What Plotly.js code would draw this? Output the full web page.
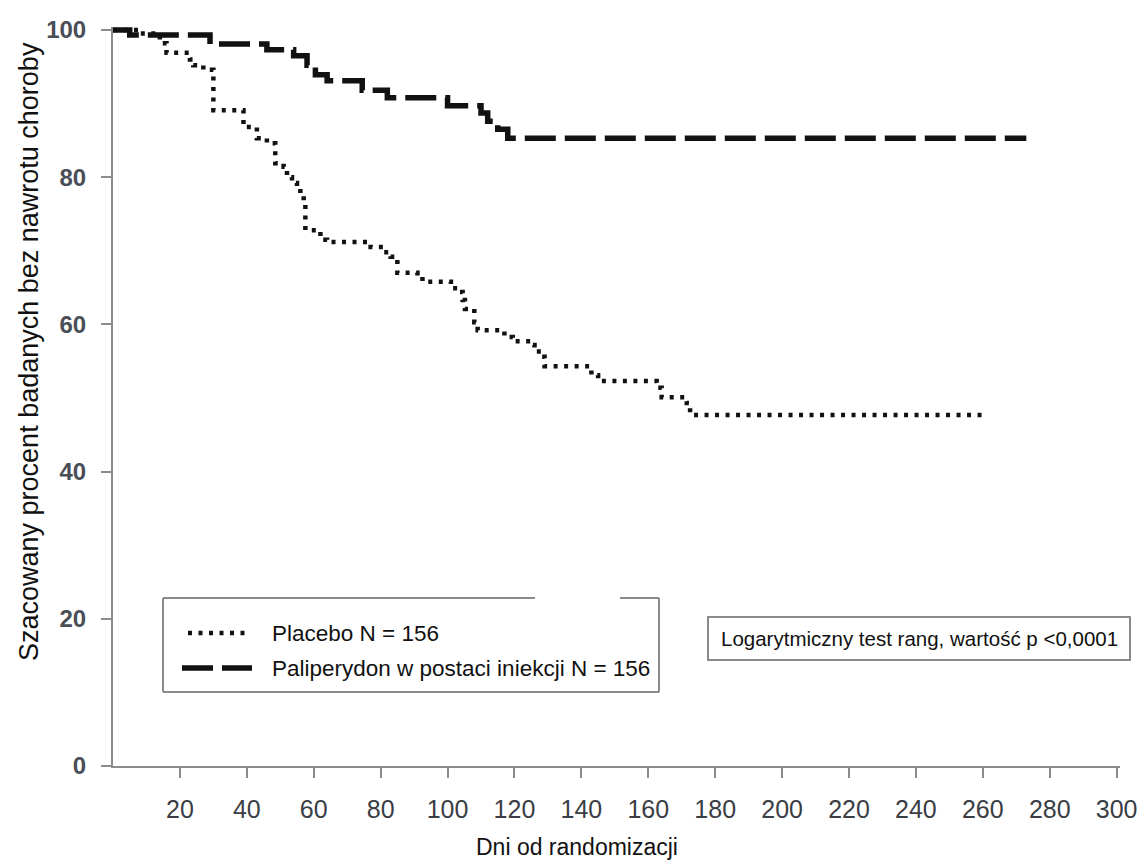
<!DOCTYPE html>
<html>
<head>
<meta charset="utf-8">
<script src="https://cdn.plot.ly/plotly-3.0.1.min.js"></script>
<style>
  html, body { margin: 0; padding: 0; background: #ffffff; }
  #chart { width: 1143px; height: 861px; }
</style>
</head>
<body>
<div id="chart"></div>
<script>
// ---- Data ----
const placeboDays = [0, 8, 14, 16, 23, 24, 27, 30, 39, 43, 46, 48.5, 51, 52, 53.5, 55, 56, 57, 57.5, 62, 64, 77, 81, 83, 85, 91, 92.5, 101, 103.5, 104.5, 105.2, 108, 109, 117, 119.5, 125, 126, 128, 129, 143, 145, 162.5, 164, 171.5, 172.5, 261];
const placeboPct  = [100, 99.5, 98.2, 96.9, 96.0, 95.2, 94.6, 89.1, 86.8, 85.3, 84.6, 81.9, 81.4, 80.0, 79.2, 78.7, 77.8, 76.5, 72.8, 71.5, 71.2, 70.5, 69.8, 69.2, 67.0, 66.6, 65.8, 64.9, 64.4, 63.3, 62.1, 60.3, 59.2, 58.3, 57.7, 57.2, 56.3, 55.6, 54.3, 53.1, 52.3, 51.4, 50.1, 49.3, 47.7, 47.7];

const paliDays = [0, 5, 29, 46, 54, 58, 60.5, 64, 74.5, 82, 100, 110, 112, 115, 118, 273];
const paliPct  = [100, 99.3, 98.1, 97.3, 96.5, 95.2, 93.9, 93.1, 91.8, 90.8, 89.7, 88.7, 87.6, 86.5, 85.3, 85.3];

const xTicks = [20, 40, 60, 80, 100, 120, 140, 160, 180, 200, 220, 240, 260, 280, 300];
const yTicks = [0, 20, 40, 60, 80, 100];

const seriesNames = ['Placebo N = 156', 'Paliperydon w postaci iniekcji N = 156'];
const xTitle = 'Dni od randomizacji';
const yTitle = 'Szacowany procent badanych bez nawrotu choroby';
const testText = 'Logarytmiczny test rang, wartość p <0,0001';

// ---- Layout helpers (pixel -> paper) ----
const L = 113, R = 23, T = 27, B = 95, W = 1143, H = 861;
const PW = W - L - R, PH = H - T - B;
const PX = p => (p - L) / PW;
const PY = p => (H - B - p) / PH;

const sans = '"Liberation Sans", Arial, sans-serif';
const axisGray = '#8c8c8c';

const dotDash = '4px,6.5px';
const longDash = '31px,9px';

const traces = [
  { x: placeboDays, y: placeboPct, mode: 'lines', line: { shape: 'hv', color: '#111111', width: 4.5, dash: dotDash }, name: seriesNames[0], showlegend: false, hoverinfo: 'skip' },
  { x: paliDays, y: paliPct, mode: 'lines', line: { shape: 'hv', color: '#111111', width: 5.5, dash: longDash }, name: seriesNames[1], showlegend: false, hoverinfo: 'skip' }
];

const border = { color: '#8a8a8a', width: 2 };
const shapes = [
  // legend box (gap in top border as in the reference)
  { type: 'line', xref: 'paper', yref: 'paper', x0: PX(163), x1: PX(535), y0: PY(598), y1: PY(598), line: border },
  { type: 'line', xref: 'paper', yref: 'paper', x0: PX(620), x1: PX(659), y0: PY(598), y1: PY(598), line: border },
  { type: 'line', xref: 'paper', yref: 'paper', x0: PX(163), x1: PX(163), y0: PY(598), y1: PY(692), line: border },
  { type: 'line', xref: 'paper', yref: 'paper', x0: PX(659), x1: PX(659), y0: PY(598), y1: PY(692), line: border },
  { type: 'line', xref: 'paper', yref: 'paper', x0: PX(163), x1: PX(659), y0: PY(692), y1: PY(692), line: border },
  // legend samples
  { type: 'line', xref: 'paper', yref: 'paper', x0: PX(188), x1: PX(250), y0: PY(633), y1: PY(633), line: { color: '#111111', width: 4.5, dash: dotDash } },
  { type: 'line', xref: 'paper', yref: 'paper', x0: PX(182), x1: PX(252), y0: PY(668), y1: PY(668), line: { color: '#111111', width: 5.5, dash: longDash } },
  // test box
  { type: 'rect', xref: 'paper', yref: 'paper', x0: PX(708), x1: PX(1130), y0: PY(617), y1: PY(660), line: border, fillcolor: 'rgba(255,255,255,0)' }
];

const annotations = [
  { xref: 'paper', yref: 'paper', x: PX(270), y: PY(633), xanchor: 'left', yanchor: 'middle', text: seriesNames[0], showarrow: false, font: { family: sans, size: 22.5, color: '#111111' } },
  { xref: 'paper', yref: 'paper', x: PX(270), y: PY(668), xanchor: 'left', yanchor: 'middle', text: seriesNames[1], showarrow: false, font: { family: sans, size: 22.5, color: '#111111' } },
  { xref: 'paper', yref: 'paper', x: PX(919), y: PY(638), xanchor: 'center', yanchor: 'middle', text: testText, showarrow: false, font: { family: sans, size: 20.5, color: '#111111' } },
  { xref: 'paper', yref: 'paper', x: PX(577), y: PY(847), xanchor: 'center', yanchor: 'middle', text: xTitle, showarrow: false, font: { family: sans, size: 23, color: '#111111' } },
  { xref: 'paper', yref: 'paper', x: PX(29), y: PY(352), xanchor: 'center', yanchor: 'middle', textangle: -90, text: yTitle, showarrow: false, font: { family: sans, size: 27, color: '#111111' } }
];

const layout = {
  width: W, height: H,
  margin: { l: L, r: R, t: T, b: B, pad: 0 },
  paper_bgcolor: '#ffffff', plot_bgcolor: '#ffffff',
  showlegend: false,
  xaxis: {
    range: [0, 301], tickvals: xTicks, ticktext: xTicks.map(String),
    showgrid: false, zeroline: false, showline: true, linecolor: axisGray, linewidth: 2,
    ticks: 'outside', ticklen: 10, tickwidth: 2, tickcolor: axisGray,
    tickfont: { family: sans, size: 25, color: '#3a3d44' }, ticklabelstandoff: 10
  },
  yaxis: {
    range: [0, 100.4], tickvals: yTicks, ticktext: yTicks.map(String),
    showgrid: false, zeroline: false, showline: true, linecolor: axisGray, linewidth: 2,
    ticks: 'outside', ticklen: 10, tickwidth: 2, tickcolor: axisGray,
    tickfont: { family: sans, size: 24, color: '#4a4e57', weight: 'bold' }, ticklabelstandoff: 10
  },
  shapes: shapes,
  annotations: annotations
};

Plotly.newPlot('chart', traces, layout, { staticPlot: true, displayModeBar: false });
</script>
</body>
</html>
